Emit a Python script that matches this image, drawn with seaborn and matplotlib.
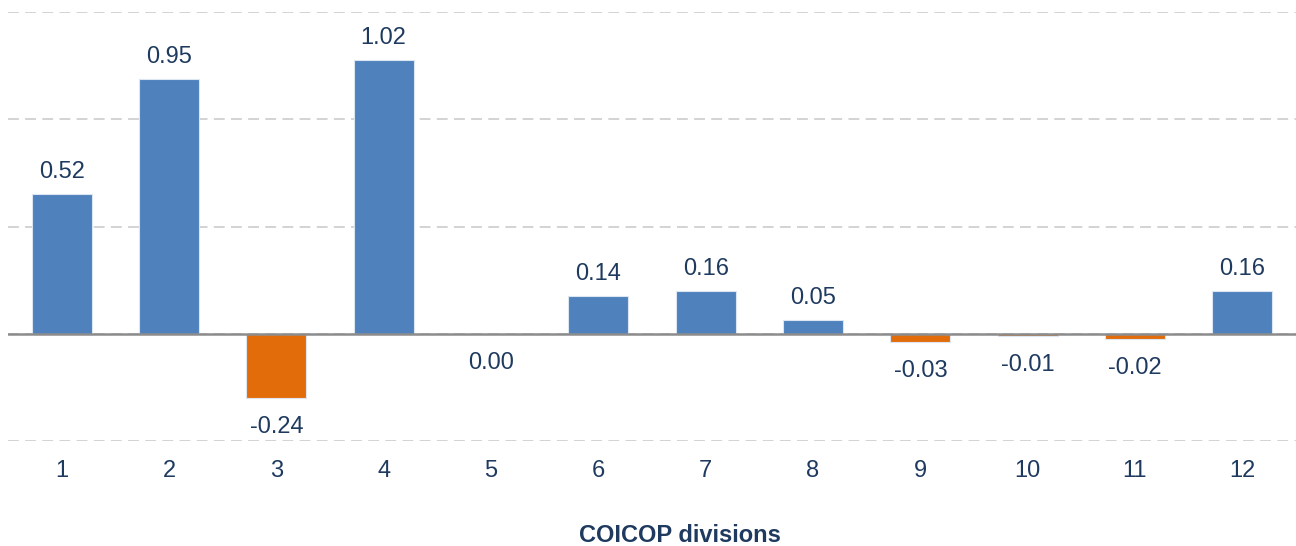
import pandas as pd
import seaborn as sns
import matplotlib.pyplot as plt

# COICOP divisions and their contributions
divisions = ['1', '2', '3', '4', '5', '6', '7', '8', '9', '10', '11', '12']
values = [0.52, 0.95, -0.24, 1.02, 0.00, 0.14, 0.16, 0.05, -0.03, -0.01, -0.02, 0.16]
label_text = ['0.52', '0.95', '-0.24', '1.02', '0.00', '0.14', '0.16', '0.05', '-0.03', '-0.01', '-0.02', '0.16']

BLUE = '#4F81BD'
ORANGE = '#E36C0A'
NAVY = '#1F3A5F'

df = pd.DataFrame({'division': divisions, 'value': values})
df['sign'] = ['neg' if v < 0 else 'pos' for v in values]

sns.set_style('white')
plt.rcParams['font.family'] = ['Liberation Sans', 'DejaVu Sans']

fig = plt.figure(figsize=(12.96, 5.46), dpi=100)
ax = fig.add_axes([8 / 1296, 1 - 441 / 546, 1 - 8 / 1296, (441 - 12) / 546])

sns.barplot(data=df, x='division', y='value', hue='sign', order=divisions,
            palette={'pos': BLUE, 'neg': ORANGE}, dodge=False, width=0.56,
            saturation=1, legend=False, ax=ax, edgecolor='#DCE6F2', linewidth=0.8)

ax.set_ylim(-0.4, 1.2)
ax.set_xlim(-0.5, len(divisions) - 0.5)
ax.set_yticks([-0.4, 0.0, 0.4, 0.8, 1.2])
ax.set_yticklabels([])
ax.tick_params(axis='y', length=0)
ax.yaxis.grid(True, color='#D0D0D0', linestyle=(0, (6, 3.5)), linewidth=1.3)
ax.set_axisbelow(True)
ax.axhline(0, color='#8C8C8C', linewidth=1.8, zorder=3)

for s in ax.spines.values():
    s.set_visible(False)

ax.tick_params(axis='x', length=0, pad=14, labelsize=17, labelcolor=NAVY)
ax.set_ylabel('')
ax.set_xlabel('COICOP divisions', fontsize=17, fontweight='bold', color=NAVY)
ax.xaxis.set_label_coords((680 - 8) / 1288, -(535 - 441) / 429)
ax.xaxis.label.set_va('center')

# value labels
for i, (v, t) in enumerate(zip(values, label_text)):
    if v > 0:
        ax.annotate(t, (i, v), xytext=(0, 8), textcoords='offset points',
                    ha='center', va='bottom', fontsize=17, color=NAVY)
    else:
        ax.annotate(t, (i, v), xytext=(0, -13), textcoords='offset points',
                    ha='center', va='top', fontsize=17, color=NAVY)

fig.savefig('out.png', dpi=100)
plt.close(fig)
